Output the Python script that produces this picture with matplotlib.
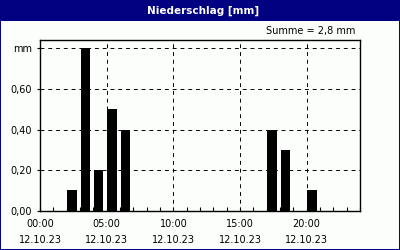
import matplotlib
matplotlib.use("Agg")
import matplotlib.pyplot as plt
from matplotlib.ticker import MultipleLocator, FixedLocator
from matplotlib.patches import Rectangle

TITEL = "Niederschlag [mm]"
SUMME = "Summe = 2,8 mm"
NAVY = "#000080"
BG = "#FCFEFC"

# Stunde (Beginn des Intervalls) und Niederschlag in mm
stunden = [2, 3, 4, 5, 6, 17, 18, 20]
werte = [0.1, 0.8, 0.2, 0.5, 0.4, 0.4, 0.3, 0.1]

x_ticks = [0, 5, 10, 15, 20]
x_labels = ["00:00\n12.10.23", "05:00\n12.10.23", "10:00\n12.10.23",
            "15:00\n12.10.23", "20:00\n12.10.23"]
y_ticks = [0.0, 0.2, 0.4, 0.6, 0.8]
y_labels = ["0,00", "0,20", "0,40", "0,60", "mm"]

plt.rcParams["font.family"] = "DejaVu Sans"
plt.rcParams["font.size"] = 7

fig = plt.figure(figsize=(4, 2.5), dpi=100, facecolor=BG)

# Titelleiste und Rahmen
fig.patches.append(Rectangle((0, 0.918), 1, 0.082, transform=fig.transFigure,
                             facecolor=NAVY, edgecolor="none", zorder=0))
fig.patches.append(Rectangle((0.0012, 0.002), 0.9976, 0.996, transform=fig.transFigure,
                             facecolor="none", edgecolor=NAVY, lw=1.4, zorder=5))
fig.text(0.508, 0.958, TITEL, color="white", fontweight="bold", fontsize=7.5,
         ha="center", va="center")
fig.text(0.888, 0.876, SUMME, ha="right", va="center", fontsize=7)

ax = fig.add_axes([0.1, 0.157, 0.8, 0.683])
ax.set_facecolor(BG)
ax.bar([h + 0.05 for h in stunden], werte, width=0.7, align="edge",
       color="black", zorder=3)

ax.set_xlim(0, 24)
ax.set_ylim(0, 0.841)

ax.xaxis.set_major_locator(FixedLocator(x_ticks))
ax.xaxis.set_minor_locator(MultipleLocator(1))
ax.set_xticklabels(x_labels, linespacing=1.8)
ax.yaxis.set_major_locator(FixedLocator(y_ticks))
ax.set_yticklabels(y_labels)

ax.tick_params(axis="x", which="both", direction="in", length=3, width=0.8, pad=6)
ax.tick_params(axis="y", which="both", direction="out", length=2, width=0.8, pad=4)

ax.grid(True, which="major", color="black", linestyle=(0, (4, 4)), lw=0.7, zorder=1)

for s in ax.spines.values():
    s.set_linewidth(1.0)
    s.set_zorder(4)

fig.savefig("out.png", dpi=100, facecolor=BG)
